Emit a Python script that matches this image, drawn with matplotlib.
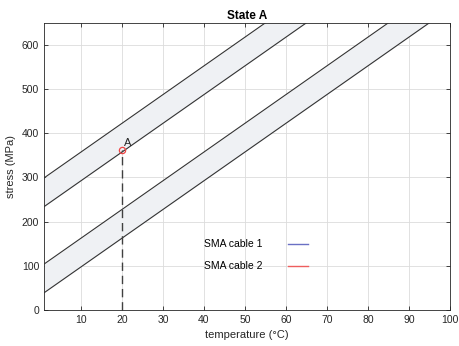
import numpy as np
import matplotlib
matplotlib.use("Agg")
import matplotlib.pyplot as plt

plt.rcParams['font.family'] = ['Liberation Sans', 'DejaVu Sans']

# temperature range and SMA transformation bands (stress = slope*(T + offset))
temp = np.array([1, 100])
slope = 6.5
band1_offsets = [45, 35]   # SMA cable 1: upper / lower line
band2_offsets = [15, 5]    # SMA cable 2: upper / lower line

point_T = 20
point_s = 362
point_label = "A"

legend_labels = ["SMA cable 1", "SMA cable 2"]
legend_colors = ["#6a70c4", "#ee5e5e"]

xticks = [10, 20, 30, 40, 50, 60, 70, 80, 90, 100]
yticks = [0, 100, 200, 300, 400, 500, 600]

fig = plt.figure(figsize=(4.59, 3.46), dpi=100)
ax = fig.add_axes([0.096, 0.104, 0.884, 0.83])

for offs in [band1_offsets, band2_offsets]:
    up = slope * (temp + offs[0])
    lo = slope * (temp + offs[1])
    ax.fill_between(temp, lo, up, color="#eff1f4", lw=0, zorder=1)
    ax.plot(temp, up, color="#333333", lw=0.8, zorder=3)
    ax.plot(temp, lo, color="#333333", lw=0.8, zorder=3)

# dashed line from the point down to the axis
ax.plot([point_T, point_T], [0, point_s], color="#404040", lw=1.0,
        dashes=(6, 3.5), zorder=3)
ax.plot(point_T, point_s, "o", mfc="none", mec="#ee4444", ms=4.5, mew=0.9, zorder=4)
ax.text(point_T + 0.6, point_s + 4, point_label, fontsize=8, color="#262626",
        ha="left", va="bottom")

# legend entries (no data drawn)
for lab, col in zip(legend_labels, legend_colors):
    ax.plot([], [], color=col, lw=1.0, label=lab)
ax.legend(loc="center", bbox_to_anchor=(0.523, 0.19), frameon=False,
          markerfirst=False, fontsize=7.5, handlelength=2.0, labelspacing=1.15,
          handletextpad=2.4)

ax.set_xlim(1, 100)
ax.set_ylim(0, 650)
ax.set_xticks(xticks)
ax.set_yticks(yticks)
ax.grid(True, color="#dcdcdc", lw=0.6)
ax.set_axisbelow(True)
ax.tick_params(direction="in", top=True, right=True, labelsize=7.5,
               colors="#262626", length=3, width=0.6)
for sp in ax.spines.values():
    sp.set_color("#262626")
    sp.set_linewidth(0.6)

ax.set_xlabel("temperature (°C)", fontsize=8, color="#262626")
ax.set_ylabel("stress (MPa)", fontsize=8, color="#262626")
ax.set_title("State A", fontsize=8.5, fontweight="bold", pad=3)

fig.savefig("out.png", dpi=100)
